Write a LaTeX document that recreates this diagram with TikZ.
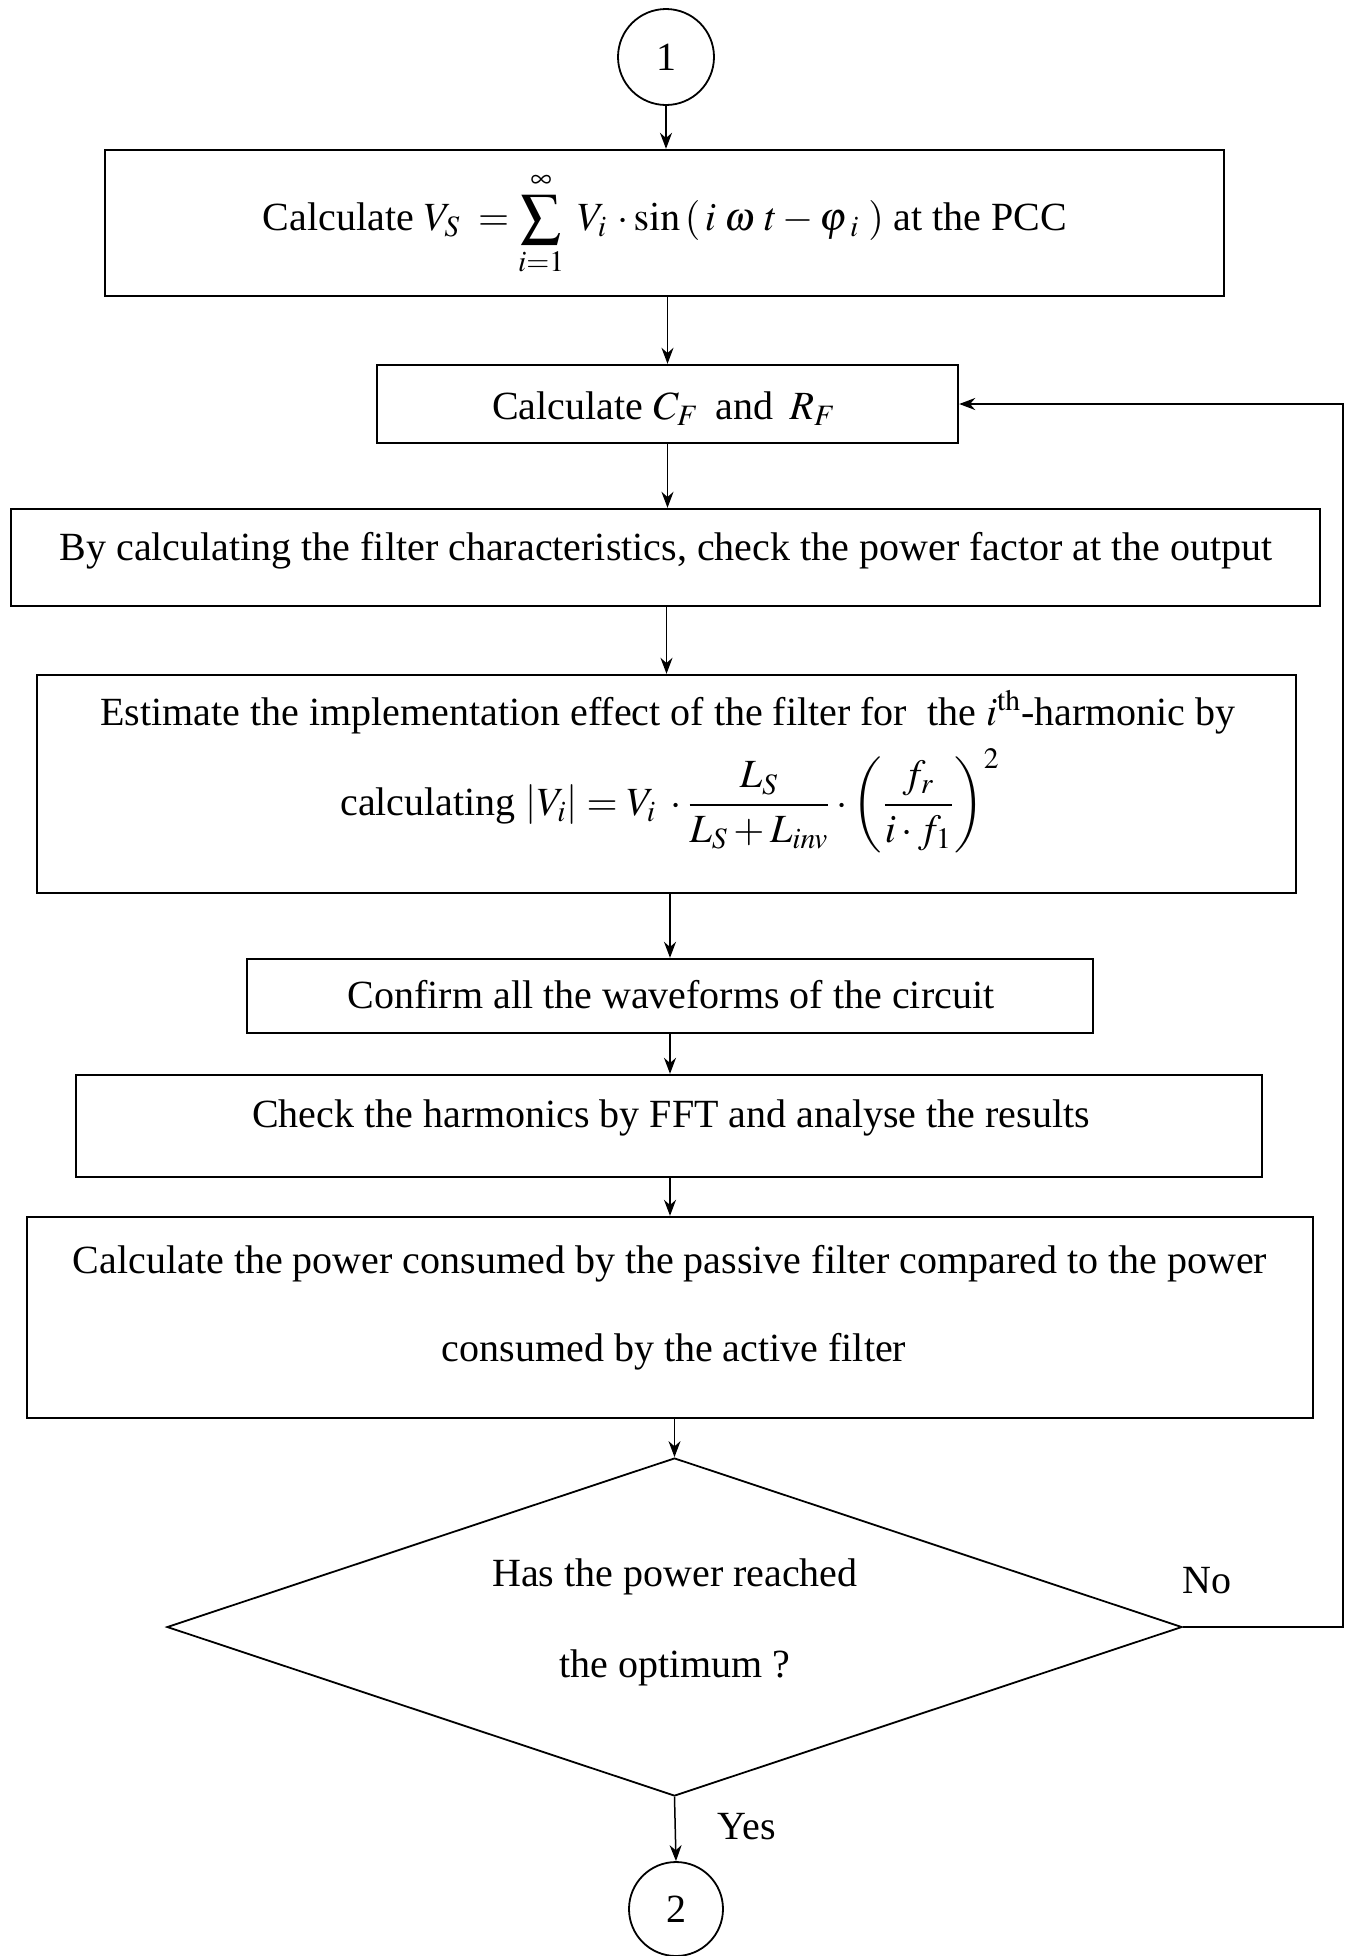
\documentclass[tikz,border=0pt]{standalone}
\usepackage{mathptmx}
\usepackage{fontspec}
\setmainfont{Liberation Serif}
\usetikzlibrary{shapes.geometric,arrows.meta}

\begin{document}
\begin{tikzpicture}[x=0.5pt,y=-0.5pt,
  box/.style={draw, line width=1.2pt, rectangle, inner sep=0pt},
  txt/.style={anchor=base, inner sep=0pt, font=\fontsize{20}{24}\selectfont},
  conn/.style={line width=0.75pt, -{Stealth[length=8pt,width=6pt]}},
  connector/.style={circle, draw, line width=0.9pt, inner sep=0pt, font=\fontsize{20}{24}\selectfont},
  decision/.style={diamond, draw, line width=0.9pt, inner sep=0pt}
]
\useasboundingbox (0,0) rectangle (1347,1956);

% start connector
\node[connector, minimum size=48pt] (c1) at (666,57) {1};

% process boxes
\node[box, minimum width=559.5pt, minimum height=73pt]   (b1) at (664.5,223) {};
\node[box, minimum width=290.5pt, minimum height=39pt]   (b2) at (667.5,404) {};
\node[box, minimum width=654.5pt, minimum height=48.5pt] (b3) at (665.5,557.5) {};
\node[box, minimum width=629.5pt, minimum height=109pt]  (b4) at (666.5,784) {};
\node[box, minimum width=423pt,   minimum height=37pt]   (b5) at (670,996) {};
\node[box, minimum width=593pt,   minimum height=51pt]   (b6) at (669,1126) {};
\node[box, minimum width=643pt,   minimum height=100.5pt](b7) at (670,1317.5) {};

% decision
\node[decision, minimum width=507.5pt, minimum height=169pt] (d) at (674.5,1627) {};

% end connector
\node[connector, minimum size=47pt] (c2) at (676,1909) {2};

% texts
\node[txt] (t1) at (665,230) {Calculate $V_S \;= \displaystyle\sum_{i=1}^{\infty}\; V_i\,\cdot\sin\left(\,i\;\omega\;t-\varphi_{\;i}\;\right)$ at the PCC};
\node[txt] (t2) at (664,419) {Calculate $C_F$\ \,and\ \,$R_F$};
\node[txt] (t3) at (666,560) {By calculating the filter characteristics, check the power factor at the output};
\node[txt] (t4a) at (668,725) {Estimate the implementation effect of the filter for\ \ the $i^{\mathrm{th}}$-harmonic by};
\node[txt] (t4b) at (670,815) {calculating $\displaystyle\left|V_i\right| = V_i\;\cdot\frac{\;\;L_S\;\;}{L_S+L_{inv}}\cdot\left(\frac{f_r}{i\cdot f_1}\right)^{2}$};
\node[txt] (t5) at (671,1008) {Confirm all the waveforms of the circuit};
\node[txt] (t6) at (671,1127) {Check the harmonics by FFT and analyse the results};
\node[txt] (t7a) at (670,1273) {Calculate the power consumed by the passive filter compared to the power};
\node[txt] (t7b) at (674,1361) {consumed by the active filter};
\node[txt] (tda) at (675,1586) {Has the power reached};
\node[txt] (tdb) at (675,1677) {the optimum ?};
\node[txt] (no) at (1207,1593) {No};
\node[txt] (yes) at (747,1839) {Yes};

% flow
\draw[conn] (c1.south) -- (c1.south |- b1.north);
\draw[conn] (b1.south -| b2) -- (b2.north);
\draw[conn] (b2.south) -- (b2.south |- b3.north);
\draw[conn] (b3.south -| b4) -- (b4.north);
\draw[conn] (b4.south -| b5) -- (b5.north);
\draw[conn] (b5.south) -- (b5.south |- b6.north);
\draw[conn] (b6.south -| b7) -- (b7.north);
\draw[conn] (b7.south -| d) -- (d.north);
\draw[conn] (d.south) -- (c2.north);

% feedback loop
\coordinate (fb) at (1343,1621);
\draw[conn, line width=1pt] (d.east) -- (d.east -| fb) -- (fb |- b2.east) -- (b2.east);
\end{tikzpicture}
\end{document}
